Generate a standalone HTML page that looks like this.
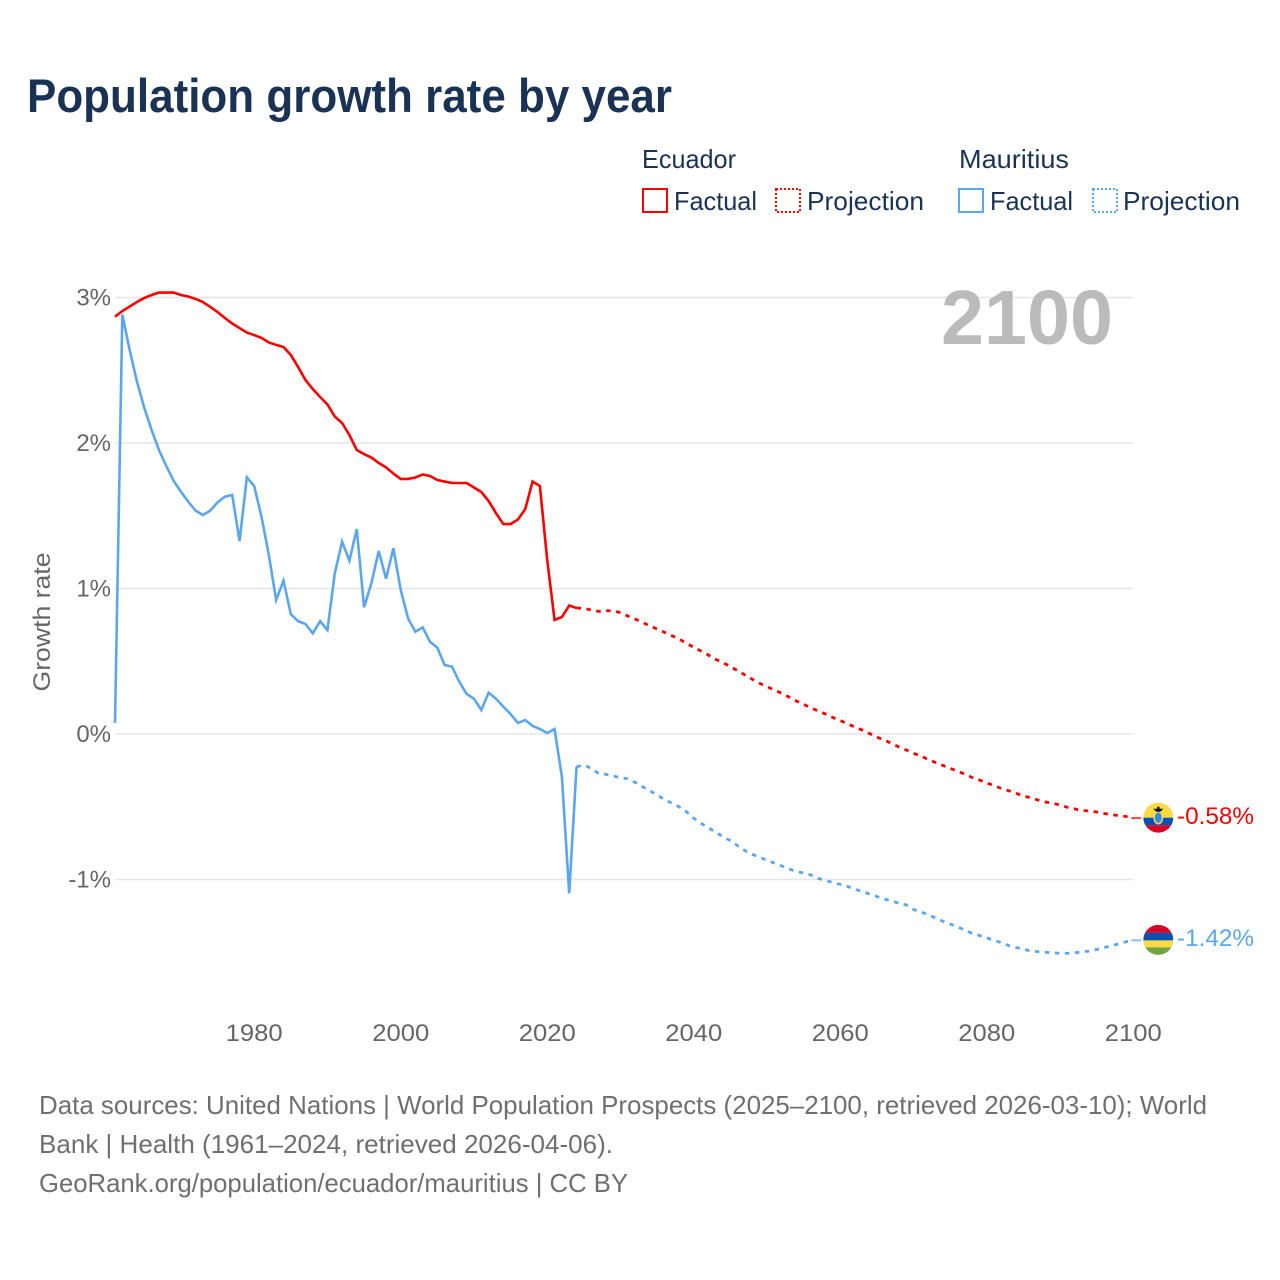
<!DOCTYPE html>
<html lang="en">
<head>
<meta charset="utf-8">
<title>Population growth rate by year</title>
<style>
html,body{margin:0;padding:0;background:#fff;width:1280px;height:1280px;overflow:hidden}
svg{display:block}
text{font-family:"Liberation Sans",sans-serif}
</style>
</head>
<body>
<svg id="chart" xmlns="http://www.w3.org/2000/svg" width="1280" height="1280" viewBox="0 0 1280 1280">
  <rect x="0" y="0" width="1280" height="1280" fill="#ffffff"/>
  <text x="27" y="112" font-size="47" font-weight="700" fill="#1a3355" textLength="645" lengthAdjust="spacingAndGlyphs">Population growth rate by year</text>

  <g font-size="26" fill="#1a3355">
    <text x="642" y="168" textLength="94" lengthAdjust="spacingAndGlyphs">Ecuador</text>
    <text x="959" y="168" textLength="110" lengthAdjust="spacingAndGlyphs">Mauritius</text>
    <rect x="643" y="189" width="24" height="23" fill="none" stroke="#ff0000" stroke-width="2"/>
    <text x="674" y="210" textLength="83" lengthAdjust="spacingAndGlyphs">Factual</text>
    <rect x="776" y="189" width="24" height="23" fill="none" stroke="#ff0000" stroke-width="2" stroke-dasharray="2 2"/>
    <text x="807" y="210" textLength="117" lengthAdjust="spacingAndGlyphs">Projection</text>
    <rect x="959" y="189" width="24" height="23" fill="none" stroke="#5ca6ee" stroke-width="2"/>
    <text x="990" y="210" textLength="83" lengthAdjust="spacingAndGlyphs">Factual</text>
    <rect x="1093" y="189" width="24" height="23" fill="none" stroke="#5ca6ee" stroke-width="2" stroke-dasharray="2 2"/>
    <text x="1123" y="210" textLength="117" lengthAdjust="spacingAndGlyphs">Projection</text>
  </g>

  <g id="grid"></g>
  <g id="yticks"></g>
  <g id="xticks"></g>
  <text transform="translate(50,622) rotate(-90)" text-anchor="middle" font-size="24" fill="#666666" textLength="139" lengthAdjust="spacingAndGlyphs">Growth rate</text>

  <text x="941" y="344" font-size="77" font-weight="700" fill="#bbbbbb" textLength="172" lengthAdjust="spacingAndGlyphs">2100</text>

  <g id="series"></g>

  <g id="flag-ecuador">
    <clipPath id="clip-ec"><circle cx="0" cy="0" r="15"/></clipPath>
    <g clip-path="url(#clip-ec)">
      <rect x="-15" y="-15" width="30" height="15" fill="#ffda44"/>
      <rect x="-15" y="0" width="30" height="7.5" fill="#0052b4"/>
      <rect x="-15" y="7.5" width="30" height="7.5" fill="#d80027"/>
    </g>
    <ellipse cx="0" cy="0" rx="4.2" ry="6" fill="#338af3" stroke="#ffda44" stroke-width="1.5"/>
    <path d="M-5,-9 L5,-9 L2,-6 L-2,-6 Z M-1.2,-11 L1.2,-11 L1.2,-6 L-1.2,-6 Z" fill="#111111"/>
  </g>
  <g id="flag-mauritius">
    <clipPath id="clip-mu"><circle cx="0" cy="0" r="15"/></clipPath>
    <g clip-path="url(#clip-mu)">
      <rect x="-15" y="-15" width="30" height="8" fill="#d80027"/>
      <rect x="-15" y="-7" width="30" height="7.5" fill="#0052b4"/>
      <rect x="-15" y="0.5" width="30" height="7" fill="#ffda44"/>
      <rect x="-15" y="7.5" width="30" height="7.5" fill="#6da544"/>
    </g>
  </g>
  <text id="label-ecuador" font-size="24.5" fill="#ff0000" textLength="77" lengthAdjust="spacingAndGlyphs">-0.58%</text>
  <text id="label-mauritius" font-size="24.5" fill="#5ca6ee" textLength="77" lengthAdjust="spacingAndGlyphs">-1.42%</text>

  <g font-size="26" fill="#6f6f6f">
    <text x="39" y="1114" textLength="1168" lengthAdjust="spacingAndGlyphs">Data sources: United Nations | World Population Prospects (2025–2100, retrieved 2026-03-10); World</text>
    <text x="39" y="1153" textLength="574" lengthAdjust="spacingAndGlyphs">Bank | Health (1961–2024, retrieved 2026-04-06).</text>
    <text x="39" y="1192" textLength="589" lengthAdjust="spacingAndGlyphs">GeoRank.org/population/ecuador/mauritius | CC BY</text>
  </g>
</svg>
<script>
const factualStartYear = 1961;
const projectionStartYear = 2024;
const yTickValues = [3, 2, 1, 0, -1];
const yTickLabels = ['3%', '2%', '1%', '0%', '-1%'];
const xTickYears = [1980, 2000, 2020, 2040, 2060, 2080, 2100];
const xTickLabels = ['1980', '2000', '2020', '2040', '2060', '2080', '2100'];

const ecuadorFactual = [2.868,2.907,2.938,2.969,2.997,3.017,3.034,3.034,3.034,3.017,3.007,2.990,2.969,2.935,2.900,2.859,2.821,2.790,2.759,2.742,2.722,2.691,2.674,2.660,2.605,2.522,2.433,2.371,2.316,2.265,2.182,2.137,2.055,1.952,1.924,1.900,1.863,1.832,1.790,1.753,1.753,1.763,1.784,1.773,1.746,1.735,1.725,1.725,1.725,1.694,1.663,1.601,1.519,1.443,1.443,1.474,1.546,1.735,1.704,1.196,0.784,0.804,0.883,0.866];
const ecuadorProjection = [0.866,0.864,0.852,0.843,0.847,0.847,0.834,0.811,0.790,0.768,0.742,0.722,0.699,0.676,0.653,0.623,0.596,0.570,0.543,0.513,0.490,0.463,0.435,0.405,0.376,0.348,0.325,0.302,0.280,0.254,0.227,0.204,0.179,0.158,0.137,0.113,0.093,0.069,0.048,0.027,0.003,-0.021,-0.041,-0.065,-0.089,-0.110,-0.133,-0.151,-0.175,-0.196,-0.216,-0.237,-0.254,-0.277,-0.299,-0.316,-0.337,-0.354,-0.375,-0.390,-0.408,-0.426,-0.438,-0.454,-0.467,-0.476,-0.488,-0.504,-0.515,-0.526,-0.529,-0.536,-0.546,-0.555,-0.560,-0.567,-0.58];
const mauritiusFactual = [0.076,2.883,2.639,2.421,2.241,2.089,1.952,1.842,1.741,1.665,1.597,1.535,1.505,1.535,1.592,1.631,1.643,1.326,1.764,1.704,1.493,1.230,0.921,1.054,0.823,0.775,0.756,0.692,0.775,0.715,1.104,1.322,1.191,1.409,0.871,1.036,1.258,1.067,1.276,0.990,0.795,0.703,0.733,0.634,0.593,0.474,0.463,0.359,0.275,0.243,0.165,0.284,0.243,0.188,0.137,0.076,0.096,0.055,0.034,0.007,0.034,-0.293,-1.095,-0.225];
const mauritiusProjection = [-0.225,-0.213,-0.236,-0.270,-0.277,-0.289,-0.300,-0.307,-0.332,-0.362,-0.390,-0.419,-0.449,-0.476,-0.500,-0.534,-0.579,-0.614,-0.644,-0.676,-0.706,-0.733,-0.768,-0.802,-0.827,-0.847,-0.868,-0.887,-0.907,-0.928,-0.945,-0.955,-0.969,-0.993,-1.007,-1.021,-1.034,-1.048,-1.067,-1.082,-1.100,-1.117,-1.134,-1.148,-1.162,-1.175,-1.206,-1.223,-1.241,-1.265,-1.287,-1.306,-1.326,-1.347,-1.371,-1.385,-1.402,-1.418,-1.434,-1.454,-1.467,-1.479,-1.491,-1.496,-1.500,-1.504,-1.507,-1.507,-1.504,-1.497,-1.492,-1.481,-1.468,-1.456,-1.442,-1.428,-1.42];

const RED = '#ff0000';
const BLUE = '#5ca6ee';
const SVGNS = 'http://www.w3.org/2000/svg';

function xScale(year) { return 115 + (year - 1961) * (1133.3 - 115) / (2100 - 1961); }
function yScale(value) { return 734 - value * 145.5; }

function buildPath(values, startYear) {
  return values.map(function (v, i) {
    return (i ? 'L' : 'M') + xScale(startYear + i).toFixed(2) + ',' + yScale(v).toFixed(2);
  }).join(' ');
}

const gridGroup = document.getElementById('grid');
const yGroup = document.getElementById('yticks');
const xGroup = document.getElementById('xticks');
const seriesGroup = document.getElementById('series');

yTickValues.forEach(function (v, i) {
  const line = document.createElementNS(SVGNS, 'line');
  
  
  line.setAttribute('x1', xScale(1961));
  line.setAttribute('x2', xScale(2100));
  line.setAttribute('y1', yScale(v));
  line.setAttribute('y2', yScale(v));
  line.setAttribute('stroke', '#e6e6e6');
  line.setAttribute('stroke-width', '1.5');
  gridGroup.appendChild(line);

  const t = document.createElementNS(SVGNS, 'text');
  
  
  t.setAttribute('x', 111);
  t.setAttribute('y', yScale(v) + 8);
  t.setAttribute('text-anchor', 'end');
  t.setAttribute('font-size', '24');
  t.setAttribute('fill', '#666666');
  t.textContent = yTickLabels[i];
  yGroup.appendChild(t);
});

xTickYears.forEach(function (year, i) {
  const t = document.createElementNS(SVGNS, 'text');
  
  
  t.setAttribute('x', xScale(year));
  t.setAttribute('y', 1041);
  t.setAttribute('text-anchor', 'middle');
  t.setAttribute('font-size', '24');
  t.setAttribute('fill', '#666666');
  t.setAttribute('textLength', '57');
  t.setAttribute('lengthAdjust', 'spacingAndGlyphs');
  t.textContent = xTickLabels[i];
  xGroup.appendChild(t);
});

function addLine(values, startYear, color, dashed, name) {
  const p = document.createElementNS(SVGNS, 'path');
  
  
  p.setAttribute('d', buildPath(values, startYear));
  p.setAttribute('fill', 'none');
  p.setAttribute('stroke', color);
  p.setAttribute('stroke-width', dashed ? '2.8' : '2.6');
  p.setAttribute('stroke-linejoin', 'miter');
  if (dashed) p.setAttribute('stroke-dasharray', '4.5 5.5');
  seriesGroup.appendChild(p);
}

addLine(ecuadorProjection, projectionStartYear, RED, true, 'ecuador-projection-line');
addLine(mauritiusProjection, projectionStartYear, BLUE, true, 'mauritius-projection-line');
addLine(mauritiusFactual, factualStartYear, BLUE, false, 'mauritius-factual-line');
addLine(ecuadorFactual, factualStartYear, RED, false, 'ecuador-factual-line');

function placeEnd(values, color, flagId, labelId, connectorName) {
  const last = values[values.length - 1];
  const ex = xScale(2100);
  const ey = yScale(last);
  const c = document.createElementNS(SVGNS, 'line');
  
  
  c.setAttribute('x1', ex - 2);
  c.setAttribute('x2', ex + 8);
  c.setAttribute('y1', ey - 0.3);
  c.setAttribute('y2', ey - 0.3);
  c.setAttribute('stroke', color);
  c.setAttribute('stroke-width', '2');
  c.setAttribute('opacity', '0.7');
  seriesGroup.appendChild(c);
  document.getElementById(flagId).setAttribute('transform', 'translate(' + (ex + 25) + ',' + (ey - 0.7) + ')');
  const l = document.getElementById(labelId);
  l.setAttribute('x', ex + 43.7);
  l.setAttribute('y', ey + 5.5);
}

placeEnd(ecuadorProjection, RED, 'flag-ecuador', 'label-ecuador', 'ecuador-flag-connector');
placeEnd(mauritiusProjection, BLUE, 'flag-mauritius', 'label-mauritius', 'mauritius-flag-connector');
</script>
</body>
</html>
